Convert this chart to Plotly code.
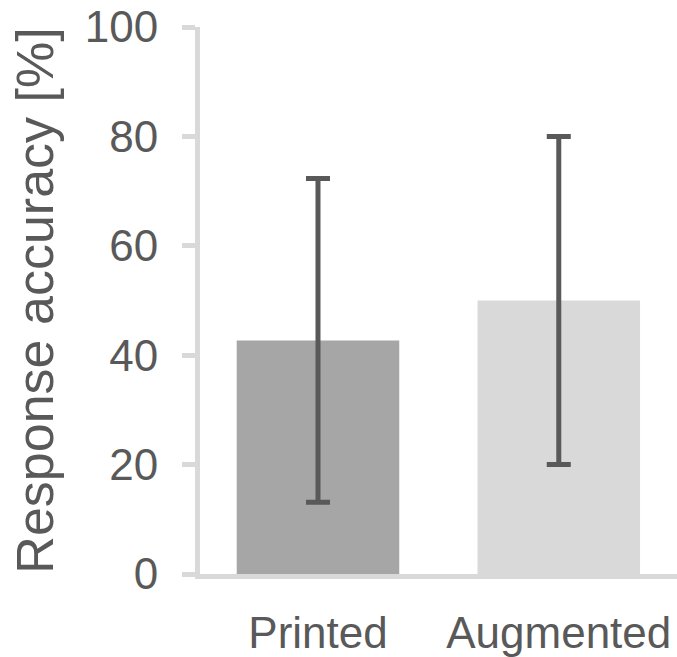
import plotly.graph_objects as go

categories = ["Printed", "Augmented"]
accuracy = [42.7, 50.0]
accuracy_err = [29.6, 30.0]
bar_colors = ["#a6a6a6", "#d9d9d9"]
y_ticks = [0, 20, 40, 60, 80, 100]

FONT = "Liberation Sans, Arial, sans-serif"
TEXT = "#595959"
AXIS = "#d9d9d9"

fig = go.Figure(
    go.Bar(
        x=categories,
        y=accuracy,
        width=0.675,
        marker=dict(color=bar_colors, line=dict(width=0)),
        error_y=dict(type="data", array=accuracy_err, visible=True,
                     color=TEXT, thickness=5, width=12),
    )
)

fig.update_layout(
    width=677, height=657,
    margin=dict(l=200, r=0, t=27, b=80, pad=0),
    paper_bgcolor="white", plot_bgcolor="white",
    showlegend=False,
    font=dict(family=FONT, color=TEXT),
)

fig.update_xaxes(
    range=[-0.49, 1.491],
    showline=True, linecolor=AXIS, linewidth=5,
    ticks="", showgrid=False, zeroline=False,
    tickfont=dict(size=44, color=TEXT, family=FONT),
    ticklabelstandoff=16,
)

fig.update_yaxes(
    range=[0, 100], tickvals=y_ticks,
    showline=True, linecolor=AXIS, linewidth=5,
    ticks="outside", ticklen=13, tickwidth=5, tickcolor=AXIS,
    showgrid=False, zeroline=False,
    tickfont=dict(size=44, color=TEXT, family=FONT),
    ticklabelstandoff=15,
    title=dict(text="Response accuracy [%]",
               font=dict(size=52, color=TEXT, family=FONT), standoff=16),
)

fig.write_html("out.html")
